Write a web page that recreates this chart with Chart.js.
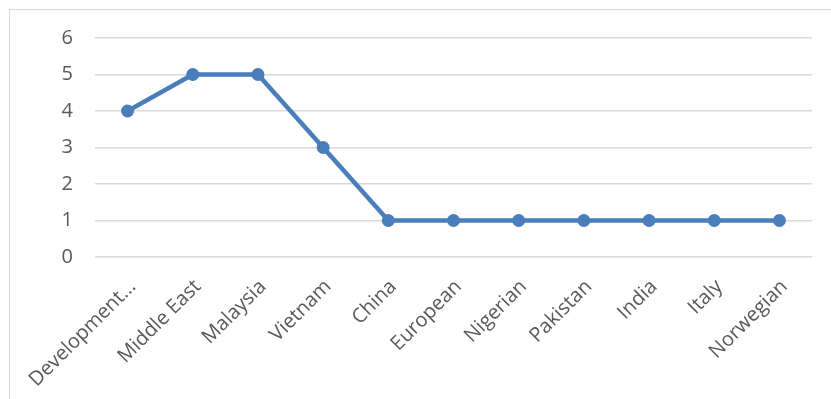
<!DOCTYPE html>
<html>
<head>
<meta charset="utf-8">
<script src="https://cdn.jsdelivr.net/npm/chart.js@4/dist/chart.umd.min.js"></script>
<style>
  html, body { margin: 0; padding: 0; background: #fff; overflow: hidden; }
  #wrap { position: relative; width: 831px; height: 399px; }
  #frame { position: absolute; left: 9px; top: 9px; width: 860px; height: 420px; border: 1px solid #d9d9d9; }
  canvas { position: absolute; left: 0; top: 0; }
</style>
</head>
<body>
<div id="wrap">
  <div id="frame"></div>
  <canvas id="line-chart" width="831" height="399"></canvas>
</div>
<script>
// Dados do gráfico
const categorias = ['Development...', 'Middle East', 'Malaysia', 'Vietnam', 'China', 'European', 'Nigerian', 'Pakistan', 'India', 'Italy', 'Norwegian'];
const valores = [4, 5, 5, 3, 1, 1, 1, 1, 1, 1, 1];
const yMin = 0;
const yMax = 6;

const corLinha = '#4a7ebb';
const corTexto = '#595959';
const corGrade = '#d9d9d9';

const config = {
    type: 'line',
    data: {
        labels: categorias,
        datasets: [{
            data: valores,
            borderColor: corLinha,
            backgroundColor: corLinha,
            borderWidth: 4.5,
            pointRadius: 6.5,
            pointBackgroundColor: corLinha,
            pointBorderColor: corLinha,
            pointBorderWidth: 0,
            tension: 0
        }]
    },
    options: {
        responsive: false,
        animation: false,
        layout: { padding: { top: 38, right: 19, left: 0, bottom: 0 } },
        plugins: { legend: { display: false }, tooltip: { enabled: false } },
        scales: {
            x: {
                offset: true,
                grid: { display: false, drawTicks: false },
                border: { display: false },
                ticks: {
                    color: corTexto,
                    font: { family: 'Open Sans', size: 20 },
                    minRotation: 45,
                    maxRotation: 45,
                    autoSkip: false,
                    padding: 18,
                    labelOffset: 5
                },
                afterFit: function (scale) { scale.height = 399 - 257; }
            },
            y: {
                min: yMin,
                max: yMax,
                grid: { color: corGrade, lineWidth: 1.5, drawTicks: false },
                border: { display: false },
                ticks: {
                    stepSize: 1,
                    color: corTexto,
                    font: { family: 'Open Sans', size: 20 },
                    padding: 22
                },
                afterFit: function (scale) { scale.width = 95; }
            }
        }
    }
};

window.onload = function () {
    const ctx = document.getElementById('line-chart').getContext('2d');
    new Chart(ctx, config);
};
</script>
</body>
</html>
